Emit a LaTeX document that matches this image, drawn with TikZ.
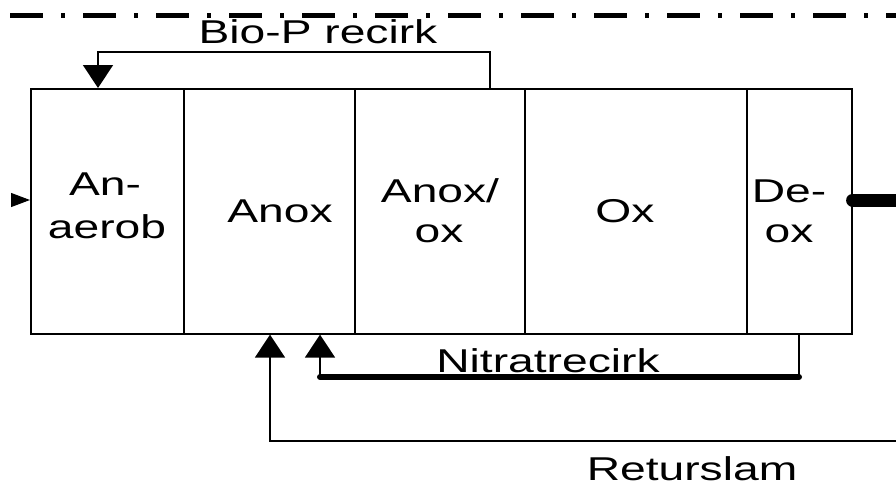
\documentclass[tikz,border=0pt]{standalone}
\usepackage{fontspec}
\setmainfont[FakeStretch=1.4]{Liberation Sans}
\usetikzlibrary{arrows.meta}
\begin{document}
\begin{tikzpicture}[x=1pt,y=-1pt,
  comp/.style={draw, line width=1.6pt, minimum height=245pt, inner sep=0pt, anchor=north west},
  lbl/.style={font=\fontsize{33}{40}\selectfont, inner sep=0pt, anchor=base},
  thinline/.style={line width=1.6pt},
  tip/.style={-{Triangle[width=30pt,length=23pt]}},
]
\useasboundingbox (0,0) rectangle (896,487);
% compartments
\node[comp, minimum width=153pt] (anaer) at (30,88) {};
\node[comp, minimum width=171pt] (anox) at (183,88) {};
\node[comp, minimum width=170pt] (anoxox) at (354,88) {};
\node[comp, minimum width=222pt] (ox) at (524,88) {};
\node[comp, minimum width=105pt] (deox) at (746,88) {};
% compartment texts
\node[lbl] (tanaerA) at (105,195) {An-};
\node[lbl] (tanaerB) at (107,238) {aerob};
\node[lbl] (tanox) at (280,222) {Anox};
\node[lbl] (tanoxoxA) at (440,202) {Anox/};
\node[lbl] (tanoxoxB) at (439,242) {ox};
\node[lbl] (tox) at (625,222) {Ox};
\node[lbl] (tdeoxA) at (789,202) {De-};
\node[lbl] (tdeoxB) at (789,242) {ox};
% other labels
\node[lbl] (tbiop) at (318,44) {Bio-P recirk};
\node[lbl] (tnitrat) at (548,372) {Nitratrecirk};
\node[lbl] (tretur) at (692,480) {Returslam};
% top dash-dot line
\coordinate (dL) at (10,16);
\coordinate (dR) at (900,16);
\draw[line width=5pt, dash pattern=on 33pt off 18pt on 4pt off 18pt] (dL) -- (dR);
% input
\coordinate (inL) at (11,200);
\draw[line width=1pt, -{Triangle[width=14pt,length=19pt]}] (inL) -- (anaer.west |- inL);
% output
\coordinate (outR) at (905,200);
\draw[line width=13pt, line cap=round] (deox.east |- outR) -- (outR);
% Bio-P recirculation
\coordinate (bpR) at (490,52);
\coordinate (bpL) at (98,52);
\draw[thinline, tip] (anoxox.north -| bpR) -- (bpR) -- (bpL) -- (anaer.north -| bpL);
% Nitrate recirculation
\coordinate (nR) at (799,377);
\coordinate (nL) at (320,377);
\draw[thinline] (deox.south -| nR) -- (nR);
\draw[line width=6pt, line cap=round] (nR) -- (nL);
\draw[thinline, tip] (nL) -- (anox.south -| nL);
% Return sludge
\coordinate (rR) at (905,441);
\coordinate (rL) at (270,441);
\draw[thinline, tip] (rR) -- (rL) -- (anox.south -| rL);
\end{tikzpicture}
\end{document}
